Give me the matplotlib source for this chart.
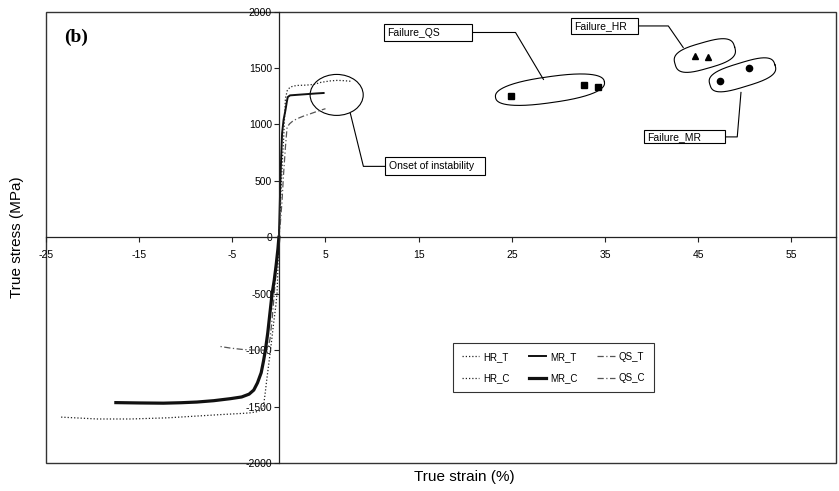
import numpy as np
import matplotlib
matplotlib.use('Agg')
import matplotlib.pyplot as plt
from matplotlib.patches import Ellipse, Rectangle

plt.rcParams['font.family'] = ['Liberation Sans', 'DejaVu Sans']
plt.rcParams['axes.unicode_minus'] = False

# ---------------- data ----------------
hr_t_strain = [0, 0.1, 0.2, 0.3, 0.4, 0.5, 0.6, 0.7, 0.9, 1.2, 1.6, 2.0, 3.0, 3.8, 4.5, 5.5, 6.3, 7.0, 7.7]
hr_t_stress = [0, 150, 350, 550, 720, 860, 1050, 1230, 1300, 1330, 1340, 1345, 1348, 1355, 1372, 1385, 1390, 1387, 1382]

mr_t_strain = [0, 0.05, 0.16, 0.25, 0.34, 0.5, 0.7, 0.85, 0.95, 1.2, 2.0, 3.0, 4.0, 4.8]
mr_t_stress = [0, 150, 500, 720, 920, 1040, 1124, 1200, 1242, 1257, 1262, 1268, 1274, 1278]

qs_t_strain = [0, 0.15, 0.34, 0.5, 0.7, 0.88, 1.16, 1.5, 1.95, 2.6, 3.38, 4.2, 5.0]
qs_t_stress = [0, 120, 327, 560, 799, 976, 1006, 1030, 1050, 1072, 1094, 1118, 1139]

hr_c_strain = [0, -0.05, -0.1, -0.2, -0.35, -0.55, -0.9, -1.1, -1.3, -1.5, -1.66, -1.9, -2.3, -3.0,
               -3.8, -6.0, -8.8, -12.0, -15.9, -19.5, -23.5]
hr_c_stress = [0, -100, -250, -500, -620, -750, -1000, -1130, -1260, -1400, -1500, -1530, -1545, -1555,
               -1560, -1570, -1584, -1600, -1610, -1610, -1593]

mr_c_strain = [0, -0.1, -0.3, -0.5, -0.73, -1.0, -1.2, -1.45, -1.66, -1.9, -2.3, -2.7, -3.2, -4.0,
               -5.2, -7.0, -8.8, -10.5, -12.4, -15.0, -17.5]
mr_c_stress = [0, -100, -250, -380, -500, -700, -850, -1000, -1100, -1200, -1290, -1354, -1390, -1415,
               -1430, -1448, -1460, -1466, -1470, -1468, -1465]

qs_c_strain = [0, -0.2, -0.45, -0.7, -0.95, -1.2, -1.6, -2.5, -3.8, -5.2, -6.5]
qs_c_stress = [0, -200, -450, -700, -900, -990, -1000, -1000, -995, -982, -965]

fail_qs_strain = [24.9, 32.7, 34.2]
fail_qs_stress = [1250, 1345, 1327]
fail_hr_strain = [44.7, 46.1]
fail_hr_stress = [1602, 1600]
fail_mr_strain = [47.3, 50.5]
fail_mr_stress = [1380, 1498]

x_ticks = [-25, -15, -5, 5, 15, 25, 35, 45, 55]
y_ticks = [-2000, -1500, -1000, -500, 0, 500, 1000, 1500, 2000]

# ---------------- figure ----------------
W, H = 839, 491
fig = plt.figure(figsize=(W / 100, H / 100), dpi=100)
ax = fig.add_axes([46 / W, 28 / H, 790 / W, 451.5 / H])
ax.set_xlim(-25, 59.8)
ax.set_ylim(-2000, 2000)

ax.spines['left'].set_position(('data', 0))
ax.spines['bottom'].set_position(('data', 0))
for s in ['top', 'right']:
    ax.spines[s].set_visible(False)
for s in ['left', 'bottom']:
    ax.spines[s].set_linewidth(0.9)
    ax.spines[s].set_color('#222222')
ax.add_patch(Rectangle((0, 0), 1, 1, transform=ax.transAxes, fill=False,
                       lw=1.0, ec='#333333', clip_on=False, zorder=0))

ax.set_xticks(x_ticks)
ax.set_yticks(y_ticks)
ax.xaxis.set_ticks_position('bottom')
ax.yaxis.set_ticks_position('left')
ax.tick_params(axis='x', direction='out', length=3.5, width=0.8, labelsize=7.5, pad=6, color='#222222')
ax.tick_params(axis='y', direction='out', length=3.5, width=0.8, labelsize=7.5, pad=1.5, color='#222222')

dot = (0, (1, 1.6))
dashdot = (0, (5, 2, 1, 2))

l_hr_t, = ax.plot(hr_t_strain, hr_t_stress, color='#222222', lw=0.9, ls=dot, label='HR_T')
l_mr_t, = ax.plot(mr_t_strain, mr_t_stress, color='#111111', lw=1.4, ls='-', label='MR_T')
l_qs_t, = ax.plot(qs_t_strain, qs_t_stress, color='#555555', lw=0.9, ls=dashdot, label='QS_T')
l_hr_c, = ax.plot(hr_c_strain, hr_c_stress, color='#222222', lw=0.9, ls=dot, label='HR_C')
l_qs_c, = ax.plot(qs_c_strain, qs_c_stress, color='#555555', lw=0.9, ls=dashdot, label='QS_C')
l_mr_c, = ax.plot(mr_c_strain, mr_c_stress, color='#111111', lw=2.3, ls='-', label='MR_C')

# failure markers
ax.plot(fail_qs_strain, fail_qs_stress, 's', color='k', ms=4.5, ls='none')
ax.plot(fail_hr_strain, fail_hr_stress, '^', color='k', ms=4.5, ls='none')
ax.plot(fail_mr_strain, fail_mr_stress, 'o', color='k', ms=4.5, ls='none')


def blob(cx_off, cy_off, xs, ys, half_len, half_wid, angle_deg, n=2.6):
    pts = ax.transData.transform(np.column_stack([xs, ys]))
    c = pts.mean(axis=0) + np.array([cx_off, cy_off])
    t = np.linspace(0, 2 * np.pi, 300)
    ct, st = np.cos(t), np.sin(t)
    u = half_len * np.sign(ct) * np.abs(ct) ** (2 / n)
    v = half_wid * np.sign(st) * np.abs(st) ** (2 / n)
    a = np.radians(angle_deg)
    X = c[0] + u * np.cos(a) - v * np.sin(a)
    Y = c[1] + u * np.sin(a) + v * np.cos(a)
    d = ax.transData.inverted().transform(np.column_stack([X, Y]))
    ax.plot(d[:, 0], d[:, 1], color='k', lw=0.8)


blob(-14, 0, fail_qs_strain, fail_qs_stress, 55, 13, 8, n=2.4)
blob(3, 1, fail_hr_strain, fail_hr_stress, 31, 13, 16, n=3.0)
blob(8, 0, fail_mr_strain, fail_mr_stress, 34, 12, 17, n=3.0)

# onset of instability ellipse
ax.add_patch(Ellipse((6.2, 1261), 5.7, 363, fill=False, lw=0.8, ec='k'))


def label_box(x0, x1, y0, y1, text, conn_x, conn_y):
    ax.add_patch(Rectangle((x0, y0), x1 - x0, y1 - y0, fill=True, fc='white', ec='k', lw=0.8, zorder=3))
    ax.text(x0 + 0.35, (y0 + y1) / 2, text, ha='left', va='center', fontsize=7.5, zorder=4)
    ax.plot(conn_x, conn_y, color='k', lw=0.8)


label_box(11.32, 20.76, 1735, 1885, 'Failure_QS', [20.76, 25.4, 28.4], [1814, 1814, 1398])
label_box(31.38, 38.57, 1805, 1938, 'Failure_HR', [38.57, 41.8, 43.4], [1872, 1872, 1681])
label_box(39.2, 47.9, 832, 947, 'Failure_MR', [47.9, 49.2, 49.6], [889, 889, 1283])
label_box(11.43, 22.16, 549, 708, 'Onset of instability', [11.43, 9.07, 7.67], [628, 628, 1097])

# legend
leg = ax.legend([l_hr_t, l_hr_c, l_mr_t, l_mr_c, l_qs_t, l_qs_c],
                ['HR_T', 'HR_C', 'MR_T', 'MR_C', 'QS_T', 'QS_C'],
                ncol=3, loc='upper left', bbox_to_anchor=(453 / W, 1 - 343 / H),
                bbox_transform=fig.transFigure, fontsize=7, frameon=True, fancybox=False,
                handlelength=1.8, handletextpad=0.4, columnspacing=2.0, labelspacing=1.15,
                borderpad=0.9, borderaxespad=0)
leg.get_frame().set_edgecolor('k')
leg.get_frame().set_linewidth(0.8)

fig.text(76 / W, 1 - 37 / H, '(b)', fontsize=14, fontweight='bold', family='Liberation Serif',
         ha='center', va='center')
fig.text(17 / W, 1 - 237 / H, 'True stress (MPa)', rotation=90, fontsize=11, ha='center', va='center')
fig.text(464 / W, 1 - 477 / H, 'True strain (%)', fontsize=11, ha='center', va='center')

fig.savefig('out.png', dpi=100)
